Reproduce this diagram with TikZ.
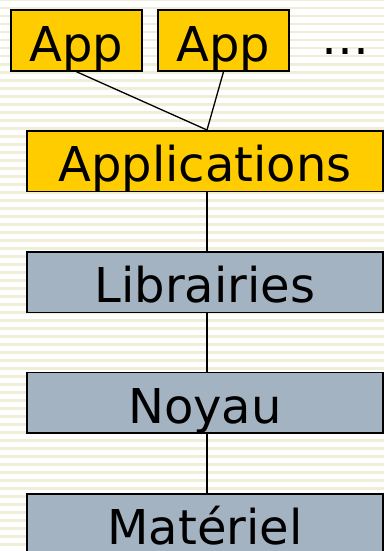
\documentclass[tikz,border=0pt]{standalone}
\usepackage{fontspec}
\setmainfont{DejaVu Sans}
\definecolor{appyellow}{HTML}{FFCC00}
\definecolor{layergrey}{HTML}{A3B3C2}
\definecolor{stripe}{HTML}{EFEFD9}
\begin{document}
\begin{tikzpicture}[x=1pt,y=-1pt,
  boxbase/.style={draw=black, line width=1.5pt, rectangle, inner sep=0pt,
    font=\fontsize{48}{48}\selectfont, text height=41pt, text depth=0pt},
  appbox/.style={boxbase, fill=appyellow, minimum width=131pt, minimum height=61pt},
  layerbox/.style={boxbase, minimum width=356pt, minimum height=60.5pt},
  link/.style={draw=black, line width=1.3pt}]
  \useasboundingbox (0,0) rectangle (384,551);
  \fill[white] (0,0) rectangle (384,551);
  \foreach \k in {0,...,69} {
    \fill[stripe] (0,{8*\k-1}) rectangle (384,{8*\k+1.5});
  }
  \node[appbox] (app1) at (76.5,40.5) {App};
  \node[appbox] (app2) at (223.5,40.5) {App};
  \node[font=\fontsize{48}{48}\selectfont, anchor=base] (dots) at (345,55) {…};
  \node[layerbox, fill=appyellow] (apps) at (205,161) {Applications};
  \node[layerbox, fill=layergrey] (libs) at (205,282.3) {Librairies};
  \node[layerbox, fill=layergrey] (kern) at (205,402.9) {Noyau};
  \node[layerbox, fill=layergrey] (hw) at (205,524) {Matériel};
  \draw[link] (app1.south) -- ([xshift=2pt]apps.north);
  \draw[link] (app2.south) -- ([xshift=2pt]apps.north);
  \draw[link] ([xshift=2pt]apps.south) -- ([xshift=2pt]libs.north);
  \draw[link] ([xshift=2pt]libs.south) -- ([xshift=2pt]kern.north);
  \draw[link] ([xshift=2pt]kern.south) -- ([xshift=2pt]hw.north);
\end{tikzpicture}
\end{document}
